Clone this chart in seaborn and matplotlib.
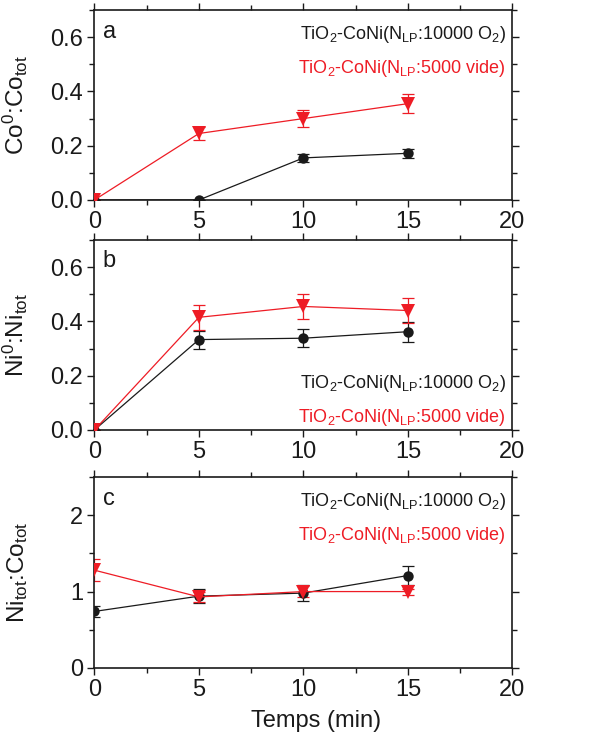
import matplotlib
matplotlib.use("Agg")
import matplotlib.pyplot as plt
import seaborn as sns
import pandas as pd
from matplotlib.ticker import MultipleLocator, FormatStrFormatter

# time axis (min)
temps = [0, 5, 10, 15]

# panel a : Co0:Cotot
co_o2 = [0.0, 0.0, 0.155, 0.172]
co_o2_err = [0.0, 0.0, 0.016, 0.017]
co_vide = [0.0, 0.245, 0.300, 0.355]
co_vide_err = [0.0, 0.025, 0.030, 0.035]

# panel b : Ni0:Nitot
ni_o2 = [0.0, 0.333, 0.338, 0.362]
ni_o2_err = [0.0, 0.033, 0.033, 0.037]
ni_vide = [0.0, 0.415, 0.455, 0.440]
ni_vide_err = [0.0, 0.045, 0.045, 0.045]

# panel c : Nitot:Cotot
ratio_o2 = [0.74, 0.94, 0.98, 1.21]
ratio_o2_err = [0.07, 0.09, 0.10, 0.12]
ratio_vide = [1.28, 0.93, 1.00, 1.00]
ratio_vide_err = [0.14, 0.07, 0.07, 0.04]

label_o2 = "TiO$_2$-CoNi(N$_{LP}$:10000 O$_2$)"
label_vide = "TiO$_2$-CoNi(N$_{LP}$:5000 vide)"
RED = "#ee1c25"
DARK = "#1a1a1a"

sns.set_style("ticks")
plt.rcParams["font.family"] = ["Liberation Sans", "DejaVu Sans"]
plt.rcParams["mathtext.default"] = "regular"

fig = plt.figure(figsize=(6.13, 7.36), dpi=100)
left, width = 0.154, 0.682
boxes = [
    (0.7283, 0.2581),
    (0.4158, 0.2582),
    (0.0924, 0.2596),
]

panels = [
    ("a", co_o2, co_o2_err, co_vide, co_vide_err, "Co$^0$:Co$_{tot}$", 0.7, 0.2, 0.1, "top"),
    ("b", ni_o2, ni_o2_err, ni_vide, ni_vide_err, "Ni$^0$:Ni$_{tot}$", 0.7, 0.2, 0.1, "bottom"),
    ("c", ratio_o2, ratio_o2_err, ratio_vide, ratio_vide_err, "Ni$_{tot}$:Co$_{tot}$", 2.5, 1, 0.5, "top"),
]

for (bottom, height), (letter, y1, e1, y2, e2, ylab, ymax, major, minor, legpos) in zip(boxes, panels):
    ax = fig.add_axes([left, bottom, width, height])
    df = pd.DataFrame({"Temps": temps + temps,
                       "val": y1 + y2,
                       "serie": ["o2"] * 4 + ["vide"] * 4})
    ax.errorbar(temps, y1, yerr=e1, fmt="none", ecolor=DARK,
                elinewidth=0.9, capsize=4.5, capthick=0.9, zorder=2)
    ax.errorbar(temps, y2, yerr=e2, fmt="none", ecolor=RED,
                elinewidth=0.9, capsize=4.5, capthick=0.9, zorder=2)
    sns.lineplot(data=df, x="Temps", y="val", hue="serie", style="serie",
                 markers={"o2": "o", "vide": "v"}, dashes=False,
                 palette={"o2": DARK, "vide": RED},
                 markersize=7.5, linewidth=0.9, markeredgewidth=0,
                 legend=False, ax=ax, zorder=3)
    # the triangles are drawn bigger than the circles
    for ln in ax.lines:
        if ln.get_marker() == "v":
            ln.set_markersize(10.5)

    ax.set_xlim(0, 20)
    ax.set_ylim(0, ymax)
    ax.xaxis.set_major_locator(MultipleLocator(5))
    ax.xaxis.set_minor_locator(MultipleLocator(2.5))
    ax.yaxis.set_major_locator(MultipleLocator(major))
    ax.yaxis.set_minor_locator(MultipleLocator(minor))
    if major < 1:
        ax.yaxis.set_major_formatter(FormatStrFormatter("%.1f"))
    ax.tick_params(which="both", direction="out", labelsize=17,
                   width=1, colors=DARK, pad=3)
    ax.tick_params(which="both", top=True, right=True)
    ax.tick_params(which="major", length=5)
    ax.tick_params(which="minor", length=3.5)
    for s in ax.spines.values():
        s.set_linewidth(1.2)
        s.set_color(DARK)
    ax.set_ylabel(ylab, fontsize=17.5, color=DARK)
    ax.yaxis.set_label_coords(-0.155, 0.5)
    ax.set_xlabel("")

    ax.text(0.02, 0.855, letter, transform=ax.transAxes, fontsize=17, color=DARK)
    if legpos == "top":
        ya, yb = 0.85, 0.67
    else:
        ya, yb = 0.22, 0.04
    ax.text(0.985, ya, label_o2, transform=ax.transAxes, ha="right",
            fontsize=13, color=DARK)
    ax.text(0.985, yb, label_vide, transform=ax.transAxes, ha="right",
            fontsize=13, color=RED)

ax.set_xlabel("Temps (min)", fontsize=17, color=DARK)
ax.xaxis.set_label_coords(0.53, -0.22)

fig.savefig("out.png", dpi=100)
